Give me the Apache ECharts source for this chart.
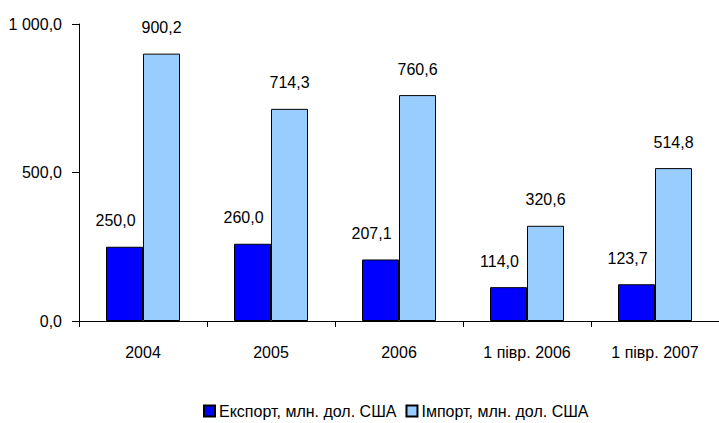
<!DOCTYPE html>
<html>
<head>
<meta charset="utf-8">
<script src="https://cdn.jsdelivr.net/npm/echarts@6/dist/echarts.min.js"></script>
<style>
html,body{margin:0;padding:0;background:#fff;}
#c{width:719px;height:423px;}
</style>
</head>
<body>
<div id="c"></div>
<script>
var categories = ['2004', '2005', '2006', '1 півр. 2006', '1 півр. 2007'];
var exportValues = [250.0, 260.0, 207.1, 114.0, 123.7];
var importValues = [900.2, 714.3, 760.6, 320.6, 514.8];
var seriesNames = ['Експорт, млн. дол. США', 'Імпорт, млн. дол. США'];
var yTickValues = [0, 500, 1000];
var yTickLabels = ['0,0', '500,0', '1 000,0'];

function fmt(v) { return v.toFixed(1).replace('.', ','); }

var font = 'Arial, "Liberation Sans", sans-serif';
var chart = echarts.init(document.getElementById('c'), null, {renderer: 'svg'});
chart.setOption({
  animation: false,
  backgroundColor: '#ffffff',
  textStyle: {fontFamily: font, color: '#000'},
  grid: {left: 79, top: 24, width: 645, height: 297, containLabel: false},
  legend: {
    left: 198, top: 398, padding: [5, 5, 5, 5],
    itemWidth: 11, itemHeight: 11, itemGap: 9,
    icon: 'rect',
    textStyle: {fontFamily: font, fontSize: 16, color: '#000', padding: [0, 0, 0, -1]},
    data: seriesNames
  },
  xAxis: {
    type: 'category',
    data: categories,
    axisLine: {lineStyle: {color: '#000', width: 1}},
    axisTick: {show: true, length: 6, lineStyle: {color: '#000'}},
    axisLabel: {fontFamily: font, fontSize: 16, color: '#000', margin: 23}
  },
  yAxis: {
    type: 'value',
    min: 0, max: 1000, interval: 500,
    axisLine: {show: true, lineStyle: {color: '#000', width: 1}},
    axisTick: {show: true, length: 7, lineStyle: {color: '#000'}},
    splitLine: {show: false},
    axisLabel: {
      fontFamily: font, fontSize: 16, color: '#000', margin: 17,
      formatter: function (v) { var i = yTickValues.indexOf(v); return i >= 0 ? yTickLabels[i] : ''; }
    }
  },
  series: [
    {
      name: seriesNames[0], type: 'bar', data: exportValues,
      barWidth: 37, barGap: '0%',
      itemStyle: {color: '#0000FF', borderColor: '#000', borderWidth: 1},
      label: {show: true, position: 'top', distance: 18, offset: [-9, 0],
        fontFamily: font, fontSize: 16, color: '#000',
        formatter: function (p) { return fmt(p.value); }}
    },
    {
      name: seriesNames[1], type: 'bar', data: importValues,
      barWidth: 37, barGap: '0%',
      itemStyle: {color: '#99CCFF', borderColor: '#000', borderWidth: 1},
      label: {show: true, position: 'top', distance: 18,
        fontFamily: font, fontSize: 16, color: '#000',
        formatter: function (p) { return fmt(p.value); }}
    }
  ]
});
</script>
</body>
</html>
